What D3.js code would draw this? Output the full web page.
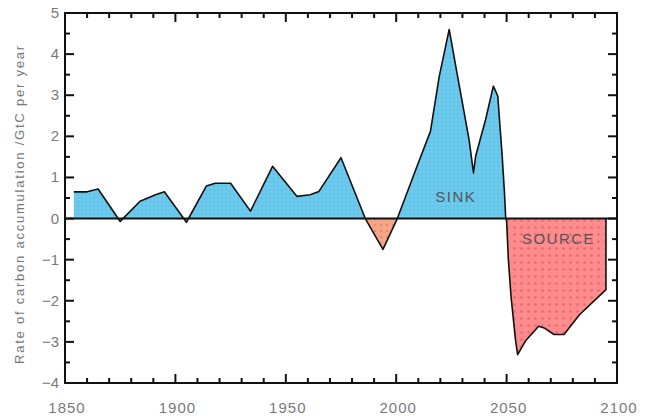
<!DOCTYPE html>
<html><head><meta charset="utf-8">
<script src="https://cdn.jsdelivr.net/npm/d3@7"></script>
<style>body{margin:0;background:#fff}svg{display:block}</style>
</head><body>
<svg id="c" width="650" height="419"></svg>
<script>
const years = [1854,1860,1865,1875,1884,1891,1895,1905,1914,1918,1925,1934,1944,1955,1961,1965,1975,1986,1994,2000.5,2010,2015.5,2019.5,2024,2027.5,2033,2035,2036,2040.5,2044,2046,2048,2049,2049.6,2050,2050.8,2052,2054,2055,2058.5,2064.5,2067,2071.5,2076,2083,2095,2095];
const values = [0.65,0.65,0.72,-0.07,0.42,0.58,0.65,-0.09,0.79,0.86,0.86,0.18,1.27,0.54,0.58,0.66,1.48,0,-0.75,0,1.35,2.12,3.46,4.6,3.55,1.92,1.11,1.52,2.41,3.22,2.98,1.52,0.66,0,-0.05,-1.0,-1.89,-2.94,-3.31,-2.98,-2.62,-2.66,-2.82,-2.82,-2.34,-1.73,0];
const xTicks = [1850,1900,1950,2000,2050,2100];
const yTicks = [-4,-3,-2,-1,0,1,2,3,4,5];
const labels = [{text:"SINK", year:2027, value:0.4},{text:"SOURCE", year:2073.5, value:-0.62}];

const svg = d3.select("#c");
const L=65, R=617, T=13, B=383;
const x = d3.scaleLinear().domain([1850,2100]).range([L,R]);
const y = d3.scaleLinear().domain([-4,5]).range([B,T]);
const data = years.map((d,i)=>({year:d, v:values[i]}));

const defs = svg.append("defs");
function pat(id, bg, dot, step, r){
  const p = defs.append("pattern").attr("id",id).attr("patternUnits","userSpaceOnUse").attr("width",step).attr("height",step);
  p.append("rect").attr("width",step).attr("height",step).attr("fill",bg);
  p.append("circle").attr("cx",step/2).attr("cy",step/2).attr("r",r).attr("fill",dot);
}
pat("pb","#6ccbec","#5bbde6",4,0.9);
pat("pr","#ff8c8c","#f06474",7,1.3);
pat("po","#f6a585","#ee7a76",6,1.1);

defs.append("clipPath").attr("id","above").append("rect").attr("x",L).attr("y",T).attr("width",R-L).attr("height",y(0)-T);
defs.append("clipPath").attr("id","belowA").append("rect").attr("x",L).attr("y",y(0)).attr("width",x(2020)-L).attr("height",B-y(0));
defs.append("clipPath").attr("id","belowB").append("rect").attr("x",x(2020)).attr("y",y(0)).attr("width",R-x(2020)).attr("height",B-y(0));

const area = d3.area().x(d=>x(d.year)).y0(y(0)).y1(d=>y(d.v));
const line = d3.line().x(d=>x(d.year)).y(d=>y(d.v));
svg.append("path").datum(data).attr("d",area).attr("fill","url(#pb)").attr("clip-path","url(#above)");
svg.append("path").datum(data).attr("d",area).attr("fill","url(#po)").attr("clip-path","url(#belowA)");
svg.append("path").datum(data).attr("d",area).attr("fill","url(#pr)").attr("clip-path","url(#belowB)");
svg.append("path").datum(data).attr("d",line).attr("fill","none").attr("stroke","#111").attr("stroke-width",1.6).attr("stroke-linejoin","round");

// zero line
svg.append("line").attr("x1",L).attr("x2",R).attr("y1",y(0)).attr("y2",y(0)).attr("stroke","#111").attr("stroke-width",2);

// ticks (inward)
const g = svg.append("g").attr("stroke","#111").attr("stroke-width",2);
d3.range(1860,2100,10).forEach(yr=>{
  const major = yr%50===0;
  const len = major?9:5;
  g.append("line").attr("x1",x(yr)).attr("x2",x(yr)).attr("y1",B).attr("y2",B-len);
  g.append("line").attr("x1",x(yr)).attr("x2",x(yr)).attr("y1",T).attr("y2",T+len);
});
d3.range(-3.5,5,0.5).forEach(v=>{
  const major = Number.isInteger(v);
  const len = major?9:5;
  g.append("line").attr("y1",y(v)).attr("y2",y(v)).attr("x1",L).attr("x2",L+len);
  g.append("line").attr("y1",y(v)).attr("y2",y(v)).attr("x1",R).attr("x2",R-len);
});
svg.append("rect").attr("x",L).attr("y",T).attr("width",R-L).attr("height",B-T).attr("fill","none").attr("stroke","#111").attr("stroke-width",2);

// tick labels
const tf = "Liberation Sans, Arial, sans-serif";
svg.selectAll(".xl").data(xTicks).join("text").attr("x",d=>x(d)+2).attr("y",413)
  .attr("text-anchor","middle").attr("font-family",tf).attr("font-size",15).attr("letter-spacing",1).attr("fill","#7a7a7a").text(d=>d);
svg.selectAll(".yl").data(yTicks).join("text").attr("x",59).attr("y",d=>y(d)+5)
  .attr("text-anchor","end").attr("font-family",tf).attr("font-size",15).attr("fill","#7a7a7a").text(d=>d<0?"\u2212"+Math.abs(d):d);

svg.append("text").attr("transform","translate(24,205) rotate(-90)").attr("text-anchor","middle")
  .attr("font-family",tf).attr("font-size",13).attr("fill","#777").attr("textLength",318).attr("lengthAdjust","spacing")
  .text("Rate of carbon accumulation /GtC per year");

svg.selectAll(".lab").data(labels).join("text").attr("x",d=>x(d.year)).attr("y",d=>y(d.value))
  .attr("text-anchor","middle").attr("font-family",tf).attr("font-size",15).attr("letter-spacing",1.5).attr("fill","#555").text(d=>d.text);
</script>
</body></html>
